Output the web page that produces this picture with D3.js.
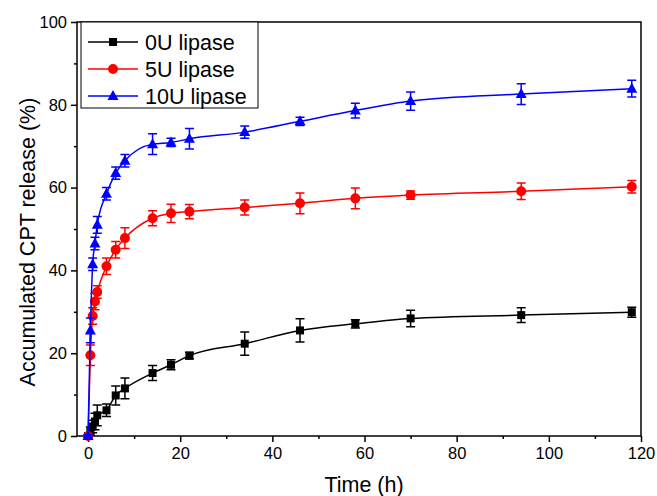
<!DOCTYPE html>
<html>
<head>
  <script src="https://d3js.org/d3.v7.min.js"></script>
  <style>
    body { margin: 0; background: #fff; }
    text { font-family: "Liberation Sans", Arial, Helvetica, sans-serif; }
  </style>
</head>
<body>
<svg id="mainSvg" width="657" height="496"></svg>

<script>
    // release data
    var times = [0, 0.5, 1, 1.5, 2, 4, 6, 8, 14, 18, 22, 34, 46, 58, 70, 94, 118];

    var release0U = [0, 1.2, 2.3, 3.5, 5.0, 6.2, 9.8, 11.5, 15.2, 17.2, 19.4, 22.3, 25.5, 27.1, 28.4, 29.2, 29.9];
    var error0U   = [0.3, 1.0, 1.5, 2.0, 2.5, 1.5, 2.3, 2.5, 1.8, 1.2, 0.8, 2.8, 2.8, 1.0, 2.0, 1.8, 1.2];

    var release5U = [0, 19.5, 29.0, 32.5, 34.8, 41.0, 45.0, 47.8, 52.6, 53.8, 54.2, 55.2, 56.2, 57.4, 58.2, 59.1, 60.2];
    var error5U   = [0.3, 2.5, 2.0, 2.0, 1.5, 2.0, 2.0, 2.5, 1.8, 2.2, 1.7, 1.8, 2.5, 2.5, 1.0, 2.0, 1.5];

    var release10U = [0, 25.5, 41.5, 46.5, 51.0, 58.5, 63.5, 66.5, 70.5, 70.9, 71.8, 73.4, 76.0, 78.6, 80.9, 82.6, 83.9];
    var error10U   = [0.3, 3.0, 1.5, 1.5, 2.0, 1.5, 1.5, 1.5, 2.5, 1.0, 2.5, 1.5, 1.0, 1.8, 2.2, 2.5, 2.0];

    var seriesNames = ["0U lipase", "5U lipase", "10U lipase"];
    var seriesColors = ["#000000", "#ff0000", "#0000ff"];
    var seriesShapes = ["square", "circle", "triangle"];

    var xTicks = [0, 20, 40, 60, 80, 100, 120];
    var xMinor = [10, 30, 50, 70, 90, 110];
    var yTicks = [0, 20, 40, 60, 80, 100];
    var yMinor = [10, 30, 50, 70, 90];

    var allValues = [release0U, release5U, release10U];
    var allErrors = [error0U, error5U, error10U];

    var series = seriesNames.map(function(name, s) {
        return {
            name: name,
            color: seriesColors[s],
            shape: seriesShapes[s],
            points: times.map(function(t, i) {
                return { t: t, v: allValues[s][i], e: allErrors[s][i] };
            })
        };
    });

    var svg = d3.select("#mainSvg");

    var plotLeft = 77, plotRight = 641, plotTop = 22, plotBottom = 436;

    var x = d3.scaleLinear().domain([-2.4, 120]).range([plotLeft, plotRight]);
    var y = d3.scaleLinear().domain([0, 100]).range([plotBottom, plotTop]);

    // Axes
    var xAxis = d3.axisBottom(x).tickValues(xTicks).tickSize(6).tickPadding(5);
    var yAxis = d3.axisLeft(y).tickValues(yTicks).tickSize(6).tickPadding(4);

    svg.append("g").attr("transform", "translate(0," + plotBottom + ")").call(xAxis);
    svg.append("g").attr("transform", "translate(" + plotLeft + ",0)").call(yAxis);

    svg.append("g").attr("transform", "translate(0," + plotBottom + ")")
        .call(d3.axisBottom(x).tickValues(xMinor).tickSize(3).tickFormat(""));
    svg.append("g").attr("transform", "translate(" + plotLeft + ",0)")
        .call(d3.axisLeft(y).tickValues(yMinor).tickSize(3).tickFormat(""));

    svg.selectAll(".domain").remove();
    svg.selectAll(".tick line").attr("stroke", "#000").attr("stroke-width", 1.5);
    svg.selectAll(".tick text")
        .attr("font-size", 16.5)
        .attr("fill", "#000")
        .style("font-family", "'Liberation Sans', Arial, sans-serif");

    // Frame
    svg.append("rect")
        .attr("x", plotLeft).attr("y", plotTop)
        .attr("width", plotRight - plotLeft).attr("height", plotBottom - plotTop)
        .attr("fill", "none").attr("stroke", "#000").attr("stroke-width", 1.5);

    // Axis titles
    svg.append("text")
        .attr("x", (plotLeft + plotRight) / 2 + 5).attr("y", 492)
        .attr("text-anchor", "middle").attr("font-size", 21.5)
        .text("Time (h)");

    svg.append("text")
        .attr("transform", "translate(35," + ((plotTop + plotBottom) / 2 + 13) + ") rotate(-90)")
        .attr("text-anchor", "middle").attr("font-size", 21.5)
        .text("Accumulated CPT release (%)");

    // Marker drawing
    function drawMarker(g, shape, color, cx, cy) {
        if (shape === "square") {
            g.append("rect")
                .attr("x", cx - 4).attr("y", cy - 4)
                .attr("width", 8).attr("height", 8)
                .attr("fill", color);
        } else if (shape === "circle") {
            g.append("circle")
                .attr("cx", cx).attr("cy", cy).attr("r", 5)
                .attr("fill", color);
        } else {
            g.append("path")
                .attr("d", "M" + cx + "," + (cy - 6) + "L" + (cx + 5.5) + "," + (cy + 4) + "L" + (cx - 5.5) + "," + (cy + 4) + "Z")
                .attr("fill", color);
        }
    }

    var line = d3.line()
        .x(function(d) { return x(d.t); })
        .y(function(d) { return y(d.v); })
        .curve(d3.curveMonotoneX);

    series.forEach(function(s) {
        var g = svg.append("g");

        g.append("path")
            .datum(s.points)
            .attr("d", line)
            .attr("fill", "none")
            .attr("stroke", s.color)
            .attr("stroke-width", 1.5);

        // Error bars
        g.selectAll(".err")
            .data(s.points)
            .enter()
            .append("path")
            .attr("d", function(d) {
                var px = x(d.t), y1 = y(d.v + d.e), y2 = y(d.v - d.e);
                return "M" + px + "," + y1 + "V" + y2 +
                    "M" + (px - 4.5) + "," + y1 + "H" + (px + 4.5) +
                    "M" + (px - 4.5) + "," + y2 + "H" + (px + 4.5);
            })
            .attr("fill", "none")
            .attr("stroke", s.color)
            .attr("stroke-width", 1.5);

        s.points.forEach(function(d) {
            drawMarker(g, s.shape, s.color, x(d.t), y(d.v));
        });
    });

    // Legend
    var legend = svg.append("g");
    legend.append("rect")
        .attr("x", 81).attr("y", plotTop)
        .attr("width", 177).attr("height", 86)
        .attr("fill", "#fff").attr("stroke", "#000").attr("stroke-width", 1);

    series.forEach(function(s, i) {
        var ly = 42 + i * 27;
        legend.append("line")
            .attr("x1", 88).attr("x2", 138)
            .attr("y1", ly).attr("y2", ly)
            .attr("stroke", s.color).attr("stroke-width", 1.5);
        drawMarker(legend, s.shape, s.color, 113, ly);
        legend.append("text")
            .attr("x", 145).attr("y", ly + 7.5)
            .attr("font-size", 21.5)
            .text(s.name);
    });
</script>

</body>
</html>
